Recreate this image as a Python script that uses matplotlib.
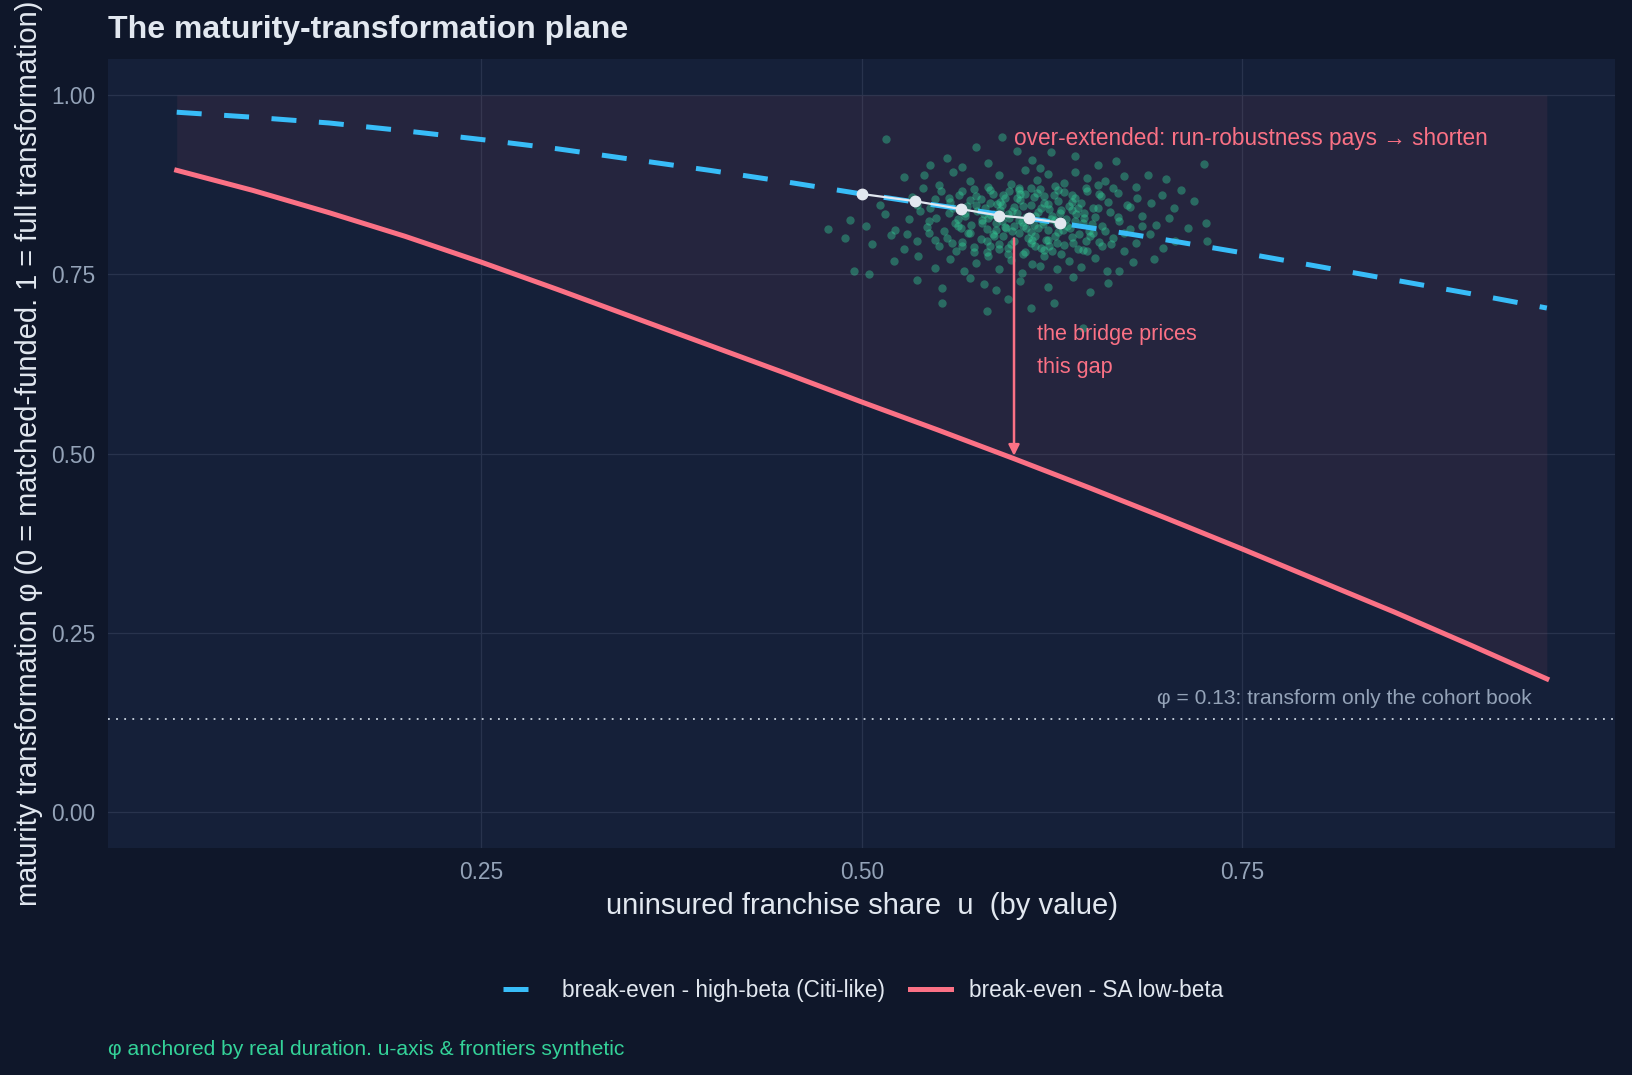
import matplotlib
matplotlib.use("Agg")
import matplotlib.pyplot as plt
from matplotlib.lines import Line2D

C_BG = "#0f172a"; C_PANEL = "#152039"; C_GRID = "#28334d"
C_BLUE = "#38bdf8"; C_ROSE = "#fb7185"; C_GREEN = "#34d399"
C_WHITE = "#e2e8f0"; C_MUTED = "#94a3b8"
plt.rcParams["font.family"] = ["Liberation Sans", "DejaVu Sans"]

# ---- data ----
u_grid = [0.05, 0.10, 0.15, 0.20, 0.25, 0.30, 0.35, 0.40, 0.45, 0.50,
          0.55, 0.60, 0.65, 0.70, 0.75, 0.80, 0.85, 0.90, 0.95]
phi_high_beta = [0.976, 0.969, 0.961, 0.950, 0.938, 0.925, 0.910, 0.895, 0.879, 0.862,
                 0.846, 0.831, 0.815, 0.798, 0.780, 0.761, 0.742, 0.723, 0.703]
phi_sa_low_beta = [0.895, 0.867, 0.836, 0.803, 0.767, 0.729, 0.690, 0.651, 0.612, 0.572,
                   0.533, 0.493, 0.452, 0.410, 0.367, 0.323, 0.279, 0.233, 0.186]

# path of the bank through time (white)
path_u = [0.500, 0.535, 0.565, 0.590, 0.610, 0.630]
path_phi = [0.862, 0.852, 0.841, 0.832, 0.828, 0.822]

# cloud of cohort observations (green)
cloud_u = [
    0.516, 0.592, 0.575, 0.602, 0.624, 0.556, 0.640, 0.583, 0.655, 0.725, 0.612, 0.545, 0.667,
    0.528, 0.560, 0.571, 0.590, 0.598, 0.607, 0.615, 0.622, 0.633, 0.640, 0.648, 0.660, 0.672,
    0.688, 0.700, 0.583, 0.551, 0.541, 0.603, 0.627, 0.655, 0.680, 0.710, 0.566, 0.617,
    0.512, 0.533, 0.545, 0.552, 0.558, 0.564, 0.569, 0.574, 0.578, 0.581, 0.586, 0.589, 0.594,
    0.597, 0.600, 0.604, 0.607, 0.611, 0.613, 0.617, 0.620, 0.623, 0.626, 0.629, 0.633, 0.636,
    0.640, 0.644, 0.648, 0.652, 0.657, 0.662, 0.668, 0.674, 0.681, 0.690, 0.697, 0.705, 0.718,
    0.571, 0.592, 0.615, 0.638, 0.548, 0.603,
    0.478, 0.492, 0.503, 0.515, 0.522, 0.531, 0.538, 0.543, 0.549, 0.554, 0.557, 0.561, 0.565,
    0.568, 0.572, 0.576, 0.579, 0.582, 0.585, 0.588, 0.591, 0.594, 0.597, 0.599, 0.602, 0.605,
    0.608, 0.610, 0.613, 0.616, 0.619, 0.622, 0.625, 0.628, 0.631, 0.634, 0.637, 0.641, 0.645,
    0.649, 0.653, 0.658, 0.663, 0.669, 0.676, 0.684, 0.693, 0.702, 0.714, 0.726, 0.563, 0.587,
    0.606, 0.627, 0.646,
    0.489, 0.507, 0.519, 0.528, 0.536, 0.544, 0.551, 0.556, 0.562, 0.566, 0.570, 0.574, 0.578,
    0.582, 0.586, 0.590, 0.593, 0.596, 0.600, 0.603, 0.607, 0.611, 0.614, 0.618, 0.621, 0.625,
    0.629, 0.633, 0.638, 0.642, 0.647, 0.652, 0.658, 0.665, 0.672, 0.680, 0.689, 0.698, 0.706,
    0.727, 0.559, 0.584, 0.609, 0.623, 0.645,
    0.495, 0.505, 0.521, 0.537, 0.548, 0.558, 0.567, 0.575, 0.583, 0.590, 0.598, 0.605, 0.612,
    0.620, 0.628, 0.636, 0.644, 0.653, 0.661, 0.669, 0.678, 0.692, 0.596, 0.617,
    0.536, 0.553, 0.571, 0.588, 0.604, 0.622, 0.639, 0.650, 0.662, 0.580,
    0.553, 0.582, 0.611, 0.626, 0.645, 0.596,
    # denser core
    0.560, 0.568, 0.575, 0.583, 0.591, 0.599, 0.606, 0.614, 0.622, 0.630, 0.638, 0.646, 0.655,
    0.563, 0.571, 0.579, 0.587, 0.595, 0.603, 0.611, 0.619, 0.627, 0.635, 0.643, 0.651, 0.660,
    0.566, 0.574, 0.582, 0.590, 0.598, 0.606, 0.614, 0.622, 0.631, 0.639, 0.648, 0.656,
    0.557, 0.566, 0.575, 0.584, 0.593, 0.602, 0.611, 0.620, 0.629, 0.638, 0.647, 0.656, 0.665,
    0.600, 0.608, 0.616, 0.624, 0.632, 0.596, 0.588, 0.580, 0.640, 0.650, 0.612, 0.620, 0.628,
    0.604, 0.584, 0.618, 0.642, 0.592,
    0.544, 0.536, 0.548, 0.668, 0.676, 0.664, 0.672, 0.540, 0.684, 0.530,
]
cloud_phi = [
    0.939, 0.941, 0.928, 0.922, 0.921, 0.912, 0.915, 0.905, 0.902, 0.904, 0.910, 0.903, 0.908,
    0.885, 0.893, 0.880, 0.889, 0.876, 0.895, 0.882, 0.890, 0.878, 0.893, 0.884, 0.880, 0.887,
    0.889, 0.883, 0.872, 0.874, 0.888, 0.871, 0.873, 0.874, 0.872, 0.867, 0.899, 0.898,
    0.846, 0.858, 0.843, 0.866, 0.851, 0.861, 0.845, 0.869, 0.855, 0.842, 0.862, 0.848, 0.857,
    0.866, 0.844, 0.853, 0.862, 0.847, 0.858, 0.869, 0.850, 0.841, 0.861, 0.852, 0.865, 0.845,
    0.856, 0.849, 0.866, 0.843, 0.859, 0.851, 0.863, 0.846, 0.857, 0.849, 0.861, 0.843, 0.852,
    0.853, 0.846, 0.864, 0.840, 0.855, 0.868,
    0.813, 0.826, 0.818, 0.834, 0.812, 0.827, 0.838, 0.816, 0.829, 0.811, 0.836, 0.822, 0.814,
    0.831, 0.819, 0.838, 0.826, 0.813, 0.833, 0.821, 0.839, 0.816, 0.828, 0.811, 0.835, 0.823,
    0.814, 0.831, 0.819, 0.837, 0.825, 0.812, 0.832, 0.820, 0.839, 0.827, 0.815, 0.834, 0.822,
    0.811, 0.830, 0.818, 0.837, 0.824, 0.813, 0.832, 0.819, 0.828, 0.815, 0.822, 0.827, 0.834,
    0.818, 0.826, 0.836,
    0.800, 0.792, 0.805, 0.785, 0.797, 0.808, 0.789, 0.801, 0.783, 0.795, 0.807, 0.788, 0.799,
    0.781, 0.806, 0.792, 0.803, 0.786, 0.797, 0.808, 0.781, 0.793, 0.804, 0.787, 0.798, 0.783,
    0.809, 0.791, 0.802, 0.785, 0.796, 0.807, 0.789, 0.800, 0.782, 0.794, 0.806, 0.787, 0.797,
    0.797, 0.794, 0.790, 0.801, 0.790, 0.784,
    0.754, 0.751, 0.768, 0.776, 0.759, 0.771, 0.755, 0.766, 0.776, 0.758, 0.770, 0.752, 0.765,
    0.775, 0.757, 0.769, 0.760, 0.773, 0.755, 0.754, 0.767, 0.772, 0.779, 0.761,
    0.742, 0.731, 0.745, 0.728, 0.740, 0.733, 0.746, 0.725, 0.738, 0.737,
    0.710, 0.699, 0.703, 0.710, 0.675, 0.715,
    # denser core
    0.842, 0.836, 0.847, 0.829, 0.851, 0.838, 0.845, 0.832, 0.848, 0.836, 0.851, 0.829, 0.842,
    0.818, 0.808, 0.821, 0.803, 0.815, 0.826, 0.809, 0.820, 0.804, 0.817, 0.806, 0.820, 0.810,
    0.790, 0.781, 0.797, 0.785, 0.792, 0.778, 0.789, 0.798, 0.779, 0.793, 0.782, 0.795,
    0.857, 0.866, 0.859, 0.868, 0.861, 0.857, 0.870, 0.859, 0.868, 0.860, 0.871, 0.862, 0.870,
    0.818, 0.830, 0.815, 0.827, 0.812, 0.834, 0.812, 0.834, 0.824, 0.803, 0.798, 0.784, 0.794,
    0.862, 0.850, 0.842, 0.843, 0.825,
    0.824, 0.846, 0.798, 0.830, 0.844, 0.792, 0.808, 0.870, 0.818, 0.806,
]

phi_cohort_only = 0.13
arrow_u = 0.60
arrow_from, arrow_to = 0.80, 0.497

# ---- figure ----
fig = plt.figure(figsize=(16.32, 10.75), dpi=100)
fig.patch.set_facecolor(C_BG)
ax = fig.add_axes([0.0663, 0.211, 0.9235, 0.734])
ax.set_facecolor(C_PANEL)
for s in ax.spines.values():
    s.set_visible(False)
ax.set_xlim(0.005, 0.995); ax.set_ylim(-0.05, 1.05)
ax.set_xticks([0.25, 0.50, 0.75]); ax.set_yticks([0.0, 0.25, 0.5, 0.75, 1.0])
ax.set_xticklabels(["0.25", "0.50", "0.75"]); ax.set_yticklabels(["0.00", "0.25", "0.50", "0.75", "1.00"])
ax.tick_params(length=0, labelsize=16.4, colors=C_MUTED, pad=9)
ax.grid(True, color=C_GRID, lw=0.9)
ax.set_axisbelow(True)

ax.fill_between(u_grid, phi_sa_low_beta, [1.0] * len(u_grid), color=C_ROSE, alpha=0.07, lw=0, zorder=1)
ax.axhline(phi_cohort_only, color="#cbd5e1", lw=1.3, ls=(0, (1, 3.5)), zorder=2)
ax.scatter(cloud_u, cloud_phi, s=36, color=C_GREEN, alpha=0.40, lw=0, zorder=3)
ax.plot(u_grid, phi_high_beta, color=C_BLUE, lw=3.6, dashes=(5, 4.5), zorder=4)
ax.plot(u_grid, phi_sa_low_beta, color=C_ROSE, lw=3.6, zorder=4)
ax.plot(path_u, path_phi, color=C_WHITE, lw=1.6, marker="o", ms=7.5, zorder=6)
ax.annotate("", xy=(arrow_u, arrow_to), xytext=(arrow_u, arrow_from),
            arrowprops=dict(arrowstyle="-|>", color=C_ROSE, lw=1.8, mutation_scale=16,
                            shrinkA=0, shrinkB=0), zorder=5)

ax.text(0.60, 0.939, "over-extended: run-robustness pays \u2192 shorten", color=C_ROSE,
        fontsize=16.3, ha="left", va="center", zorder=7)
ax.text(0.615, 0.643, "the bridge prices\nthis gap", color=C_ROSE, fontsize=15.6,
        ha="left", va="center", linespacing=1.7, zorder=7)
ax.text(0.94, 0.159, "\u03c6 = 0.13: transform only the cohort book", color=C_MUTED,
        fontsize=15.1, ha="right", va="center", zorder=7)

# ---- titles ----
fig.text(0.0663, 0.972, "The maturity-transformation plane", color=C_WHITE, fontsize=23,
         fontweight="bold", ha="left", va="center")
fig.text(0.528, 0.157, "uninsured franchise share  u  (by value)", color=C_WHITE,
         fontsize=21, ha="center", va="center")
fig.text(0.018, 0.578, "maturity transformation \u03c6 (0 = matched-funded. 1 = full transformation)",
         color=C_WHITE, fontsize=20.9, ha="center", va="center", rotation=90)
fig.text(0.0663, 0.024, "\u03c6 anchored by real duration. u-axis & frontiers synthetic", color=C_GREEN,
         fontsize=15.1, ha="left", va="center")

handles = [Line2D([], [], color=C_BLUE, lw=3.6, dashes=(5, 4.5)),
           Line2D([], [], color=C_ROSE, lw=3.6)]
leg = fig.legend(handles, ["break-even - high-beta (Citi-like)", "break-even - SA low-beta"],
                 loc="center", bbox_to_anchor=(0.529, 0.079), ncol=2, frameon=False,
                 fontsize=16.3, handlelength=1.8, handletextpad=0.8, columnspacing=1.1)
for t in leg.get_texts():
    t.set_color(C_WHITE)

fig.savefig("out.png", dpi=100, facecolor=C_BG)
